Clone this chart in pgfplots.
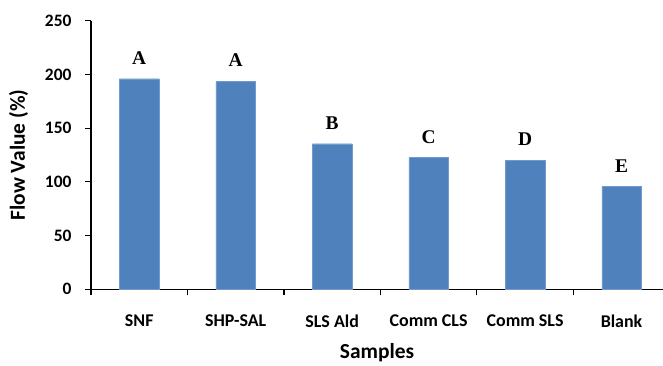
\documentclass[border=0pt]{standalone}
\usepackage{pgfplots}
\pgfplotsset{compat=1.18}
\usepackage{fontspec}
\setmainfont{Carlito}
\newfontfamily\tnr{Liberation Serif}
\definecolor{barblue}{RGB}{79,129,189}
\begin{document}
\begin{tikzpicture}
\begin{axis}[
  scale only axis,
  width=572bp, height=268.6bp,
  xmin=-0.5, xmax=5.43,
  ymin=0, ymax=250,
  ytick={0,50,100,150,200,250},
  axis x line*=bottom, axis y line*=left,
  axis line style={line width=1.2bp, black},
  tick style={line width=1.2bp, black},
  tick align=outside,
  major tick length=6bp,
  /pgf/number format/assume math mode=true,
  yticklabel style={font=\bfseries\fontsize{17.5}{17.5}\selectfont, xshift=-10bp},
  xtick={-0.5,0.5,1.5,2.5,3.5,4.5},
  xticklabels={},
  extra x ticks={0,1,2,3,4,5},
  extra x tick labels={SNF,SHP-SAL,SLS Ald,Comm CLS,Comm SLS,Blank},
  extra x tick style={major tick length=0pt, tick label style={font=\bfseries\fontsize{18}{18}\selectfont, yshift=-22bp}},
  ylabel={Flow Value (\%)},
  xlabel={Samples},
  label style={font=\bfseries\fontsize{21.5}{21.5}\selectfont},
  ylabel style={yshift=10bp},
  xlabel style={yshift=-3bp},
  clip=false,
]
\addplot[ybar, bar width=39.5bp, fill=barblue, draw=barblue!80!white,
  nodes near coords, point meta=explicit symbolic,
  every node near coord/.append style={font=\tnr\bfseries\fontsize{19.5}{19.5}\selectfont, anchor=base, yshift=14.5bp, black, inner sep=0pt}]
coordinates {(0,196)[A] (1,193.5)[A] (2,135.5)[B] (3,122.5)[C] (4,120)[D] (5,95.5)[E]};
\end{axis}
\pgfresetboundingbox
\path ([xshift=-91bp,yshift=-76.7bp]current axis.south west) rectangle ([yshift=20.7bp]current axis.north east);
\end{tikzpicture}
\end{document}
